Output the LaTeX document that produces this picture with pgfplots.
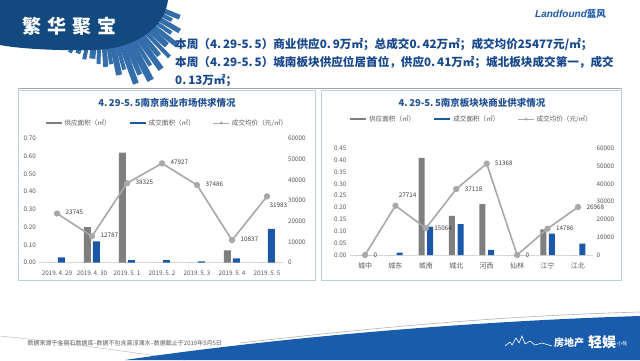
\documentclass[border=0pt]{standalone}
\usepackage{pgfplots}
\pgfplotsset{compat=1.18}
\usepackage{fontspec}
\setmainfont{Noto Sans CJK SC}
\newfontfamily\logofont{Liberation Sans}
\definecolor{barGray}{RGB}{127,127,127}
\definecolor{barBlue}{RGB}{28,88,168}
\definecolor{lineGray}{RGB}{168,168,168}
\definecolor{titleBlue}{RGB}{32,80,150}
\definecolor{textBlue}{RGB}{24,72,140}
\definecolor{frameC}{RGB}{190,205,220}
\definecolor{tickC}{RGB}{89,89,89}
\definecolor{bannerBlue}{RGB}{18,74,128}
\definecolor{skyBlue}{RGB}{52,110,170}
\definecolor{waveBlue}{RGB}{26,92,172}
\pgfplotsset{
  basechart/.style={
    scale only axis, anchor=south west, clip=false,
    tick style={draw=none},
    ticklabel style={font=\fontsize{6.3}{7}\selectfont, text=tickC},
    /pgf/number format/assume math mode=true,
    scaled y ticks=false,
  },
  barchart/.style={
    basechart,
    ybar=2pt,
    axis x line*=bottom, axis y line*=left,
    y axis line style={draw=none},
    x axis line style={-, draw=black!15, line width=0.7pt},
    yticklabel style={/pgf/number format/fixed, /pgf/number format/fixed zerofill, /pgf/number format/precision=2},
    legend columns=3,
    legend style={draw=none, fill=none, font=\fontsize{6.6}{7}\selectfont, text=tickC,
      at={(0.52,1.06)}, anchor=south,
      /tikz/every even column/.append style={column sep=16pt}},
  },
  linechart/.style={
    basechart,
    axis x line=none, axis y line*=right,
    y axis line style={draw=none},
    ymin=0, ymax=60000, ytick={0,10000,...,60000},
    yticklabel style={/pgf/number format/fixed, /pgf/number format/1000 sep={}},
  },
  labstyle/.style={draw=none, mark=none, nodes near coords, point meta=explicit symbolic,
    every node near coord/.append style={font=\fontsize{6.3}{7}\selectfont, text=black!75, #1}},
  legA/.style={legend image code/.code={\draw[barGray, line width=2pt] (0pt,0pt) -- (16pt,0pt);}},
  legB/.style={legend image code/.code={\draw[barBlue, line width=2pt] (0pt,0pt) -- (16pt,0pt);}},
  legC/.style={legend image code/.code={\draw[lineGray, line width=1pt] (0pt,0pt) -- (16pt,0pt); \fill[lineGray] (8pt,0pt) circle (1.3pt);}},
}
\begin{document}
\begin{tikzpicture}[x=1pt,y=1pt]
\fill[white] (0,0) rectangle (640,360);
\path[use as bounding box] (0,0) rectangle (640,360);

% ---------- banner ----------
\foreach \a/\r/\w in {-114/74/4,-108/72/5,-102/76/4,-96/74/6,-91/79/4,-86/82/5,-82/80/4,-78/92/6,-74/88/4,-70/105/6,-66/98/5,-62/108/7,-58/95/4,-54/104/6,-50/92/5,-46/100/4,-42/90/6,-38/98/5,-34/86/4,-30/92/5,-26/80/4,-22/86/5}{
  \fill[skyBlue, rotate around={\a:(100,375)}] (150,375-\w/2) rectangle (100+\r,375+\w/2);
}
\fill[bannerBlue] (0,360) -- (168,360) .. controls (165,335) and (140,312) .. (95,310) .. controls (50,309) and (15,312) .. (0,315) -- cycle;
\node[text=white, font=\bfseries\fontsize{19}{19}\selectfont] at (70,334) {繁\hspace{6pt}华\hspace{6pt}聚\hspace{6pt}宝};

% logo
\node[anchor=west, text=barBlue, inner sep=0pt] at (535,346) {{\logofont\bfseries\itshape\fontsize{10}{10}\selectfont Landfound}{\bfseries\fontsize{9.5}{10}\selectfont 蓝风}};

% top text
\node[anchor=west, align=left, text=textBlue, font=\bfseries\fontsize{11.6}{18}\selectfont, inner sep=0pt] at (175,298)
{本周（4.\,29-5.\,5）商业供应0.\,9万㎡；总成交0.\,42万㎡；成交均价25477元/㎡；\\
本周（4.\,29-5.\,5）城南板块供应位居首位，供应0.\,41万㎡；城北板块成交第一，成交\\
0.\,13万㎡；};
\draw[black!35, line width=0.8pt] (18,271.5) -- (622,271.5);

% frames
\draw[frameC, line width=0.9pt] (18,270) rectangle (315,79.3);
\draw[frameC, line width=0.9pt] (321.7,270) rectangle (621.7,79.3);

% titles
\node[text=titleBlue, font=\bfseries\fontsize{9.5}{10}\selectfont] at (167,257) {4.\,29-5.\,5南京商业市场供求情况};
\node[text=titleBlue, font=\bfseries\fontsize{9.5}{10}\selectfont] at (472,257) {4.\,29-5.\,5南京板块块商业供求情况};

% ---------- left chart ----------
\begin{axis}[barchart, at={(39.5pt,97.3pt)}, width=245pt, height=124.4pt,
  xmin=-0.5, xmax=6.5, ymin=0, ymax=0.7, bar width=7pt,
  xtick={0,...,6},
  xticklabels={2019.\,4.\,29,2019.\,4.\,30,2019.\,5.\,1,2019.\,5.\,2,2019.\,5.\,3,2019.\,5.\,4,2019.\,5.\,5},
  ytick={0,0.1,...,0.7}]
\addlegendimage{legA}
\addlegendimage{legB}
\addlegendimage{legC}
\addplot[forget plot, fill=barGray, draw=none, bar shift=-4.5pt] coordinates {(0,0) (1,0.20) (2,0.62) (3,0) (4,0) (5,0.07) (6,0)};
\addplot[forget plot, fill=barBlue, draw=none, bar shift=4.5pt] coordinates {(0,0.03) (1,0.12) (2,0.015) (3,0.015) (4,0.007) (5,0.025) (6,0.19)};
\legend{供应面积（㎡）,成交面积（㎡）,成交均价（元/㎡）}
\end{axis}
\begin{axis}[linechart, at={(39.5pt,97.3pt)}, width=245pt, height=124.4pt, xmin=-0.5, xmax=6.5]
\addplot[lineGray, line width=1.6pt, mark=*, mark size=2.3pt, mark options={fill=lineGray}]
  coordinates {(0,23745) (1,12787) (2,38325) (3,47927) (4,37486) (5,10837) (6,31983)};
\addplot[labstyle={anchor=west, xshift=5pt, yshift=1pt}] coordinates {(0,23745)[23745] (1,12787)[12787] (2,38325)[38325] (3,47927)[47927] (4,37486)[37486] (5,10837)[10837]};
\addplot[labstyle={anchor=north west, xshift=-1pt, yshift=-3pt}] coordinates {(6,31983)[31983]};
\end{axis}

% ---------- right chart ----------
\begin{axis}[barchart, at={(349.8pt,105pt)}, width=243.4pt, height=106.7pt,
  xmin=-0.5, xmax=7.5, ymin=0, ymax=0.45, bar width=6pt,
  legend style={at={(0.5,1.2)}},
  xtick={0,...,7},
  xticklabels={城中,城东,城南,城北,河西,仙林,江宁,江北},
  xticklabel style={font=\fontsize{7}{8}\selectfont},
  ytick={0,0.05,...,0.45}]
\addlegendimage{legA}
\addlegendimage{legB}
\addlegendimage{legC}
\addplot[forget plot, fill=barGray, draw=none, bar shift=-4.3pt] coordinates {(0,0) (1,0) (2,0.41) (3,0.165) (4,0.215) (5,0) (6,0.108) (7,0)};
\addplot[forget plot, fill=barBlue, draw=none, bar shift=4.3pt] coordinates {(0,0) (1,0.01) (2,0.12) (3,0.13) (4,0.022) (5,0) (6,0.09) (7,0.048)};
\legend{供应面积（㎡）,成交面积（㎡）,成交均价（元/㎡）}
\end{axis}
\begin{axis}[linechart, at={(349.8pt,105pt)}, width=243.4pt, height=106.7pt, xmin=-0.5, xmax=7.5]
\addplot[lineGray, line width=1.6pt, mark=*, mark size=2.3pt, mark options={fill=lineGray}]
  coordinates {(0,0) (1,27714) (2,15064) (3,37118) (4,51368) (5,0) (6,14786) (7,26968)};
\addplot[labstyle={anchor=west, xshift=5pt, yshift=0pt}] coordinates {(0,0)[0] (2,15064)[15064] (3,37118)[37118] (4,51368)[51368] (5,0)[0] (6,14786)[14786] (7,26968)[26968]};
\addplot[labstyle={anchor=south west, xshift=0pt, yshift=5pt}] coordinates {(1,27714)[27714]};
\end{axis}

% ---------- bottom ----------
\draw[black!25, line width=0.5pt] (0,24) .. controls (60,18) and (130,8) .. (185,0);
\fill[waveBlue] (125,0) .. controls (260,20) and (450,38) .. (640,44) -- (640,0) -- cycle;
\draw[black!30, line width=0.6pt] (240,17) .. controls (380,33) and (500,44) .. (640,48);
\node[anchor=west, text=black!65, font=\fontsize{6}{7}\selectfont] at (24,17) {数据来源于金丽石数据库–数据不包含高淳溧水–数据截止于2019年5月5日};
\draw[white, line width=0.6pt] (505,14) -- (510,18) -- (512,15) -- (516,22) -- (519,17) -- (522,24) -- (525,16) -- (530,19) -- (535,15) -- (542,17) -- (552,14);
\node[anchor=west, text=white, font=\bfseries\fontsize{10}{10}\selectfont, inner sep=0pt] at (554,17) {房地产};
\node[anchor=west, text=white, font=\bfseries\fontsize{14}{14}\selectfont, inner sep=0pt] at (588,18) {轻娱};
\node[anchor=west, text=white, font=\fontsize{5}{5}\selectfont, inner sep=0pt] at (617,16) {小栈};
\end{tikzpicture}
\end{document}
